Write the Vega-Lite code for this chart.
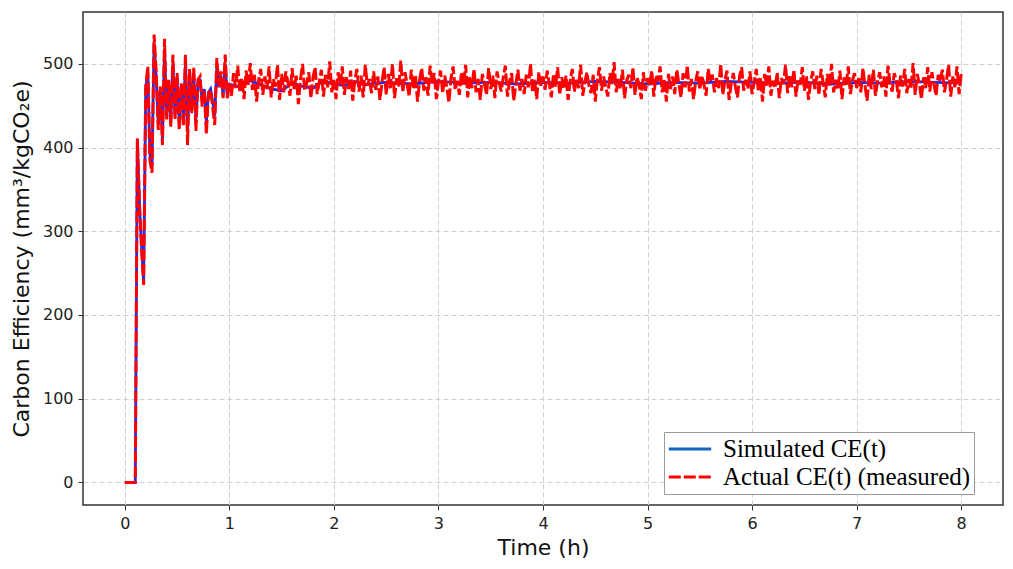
{
  "$schema": "https://vega.github.io/schema/vega-lite/v6.json",
  "width": 920,
  "height": 493,
  "autosize": {"type": "none"},
  "padding": {"left": 83, "top": 12, "right": 10, "bottom": 64},
  "background": "white",
  "datasets": {
    "simulated": [
      {"t":0,"v":0},{"t":0.02,"v":0},{"t":0.04,"v":0},{"t":0.06,"v":0},{"t":0.08,"v":0},{"t":0.1,"v":0},
      {"t":0.12,"v":409},{"t":0.14,"v":335},{"t":0.16,"v":282},{"t":0.18,"v":240},{"t":0.2,"v":470},
      {"t":0.22,"v":490},{"t":0.24,"v":392},{"t":0.26,"v":378},{"t":0.28,"v":525},{"t":0.3,"v":485},
      {"t":0.32,"v":428},{"t":0.34,"v":468},{"t":0.36,"v":410},{"t":0.38,"v":518},{"t":0.4,"v":440},
      {"t":0.42,"v":478},{"t":0.44,"v":432},{"t":0.46,"v":500},{"t":0.48,"v":440},{"t":0.5,"v":484},
      {"t":0.52,"v":430},{"t":0.54,"v":474},{"t":0.56,"v":436},{"t":0.58,"v":500},{"t":0.6,"v":418},
      {"t":0.62,"v":486},{"t":0.64,"v":448},{"t":0.66,"v":488},{"t":0.68,"v":432},{"t":0.7,"v":478},
      {"t":0.72,"v":480},{"t":0.74,"v":456},{"t":0.76,"v":470},{"t":0.78,"v":430},{"t":0.8,"v":466},
      {"t":0.82,"v":470},{"t":0.84,"v":455},{"t":0.86,"v":438},{"t":0.88,"v":496},{"t":0.9,"v":472},
      {"t":0.92,"v":486},{"t":0.94,"v":462},{"t":0.96,"v":500},{"t":0.98,"v":462},{"t":1,"v":476},
      {"t":1.1,"v":472},{"t":1.2,"v":480},{"t":1.3,"v":475},{"t":1.4,"v":470},{"t":1.5,"v":468},
      {"t":1.6,"v":477},{"t":1.7,"v":473},{"t":1.8,"v":471},{"t":1.9,"v":480},{"t":2,"v":476},
      {"t":2.1,"v":474},{"t":2.2,"v":479},{"t":2.3,"v":475},{"t":2.4,"v":477},{"t":2.5,"v":478},
      {"t":2.75,"v":476},{"t":3,"v":479},{"t":3.25,"v":477},{"t":3.5,"v":478},{"t":3.75,"v":476},
      {"t":4,"v":478},{"t":4.25,"v":477},{"t":4.5,"v":479},{"t":4.75,"v":478},{"t":5,"v":476},
      {"t":5.25,"v":478},{"t":5.5,"v":477},{"t":5.75,"v":479},{"t":6,"v":478},{"t":6.25,"v":477},
      {"t":6.5,"v":478},{"t":6.75,"v":476},{"t":7,"v":478},{"t":7.25,"v":477},{"t":7.5,"v":479},
      {"t":7.75,"v":478},{"t":8,"v":477}
    ],
    "measured": [
      {"t":0,"v":0},{"t":0.02,"v":0},{"t":0.04,"v":0},{"t":0.06,"v":0},{"t":0.08,"v":0},{"t":0.1,"v":0},
      {"t":0.12,"v":411},{"t":0.14,"v":330},{"t":0.16,"v":280},{"t":0.18,"v":236},{"t":0.2,"v":473},
      {"t":0.22,"v":497},{"t":0.24,"v":385},{"t":0.26,"v":370},{"t":0.28,"v":535},{"t":0.3,"v":491},
      {"t":0.32,"v":421},{"t":0.34,"v":473},{"t":0.36,"v":403},{"t":0.38,"v":530},{"t":0.4,"v":433},
      {"t":0.42,"v":481},{"t":0.44,"v":425},{"t":0.46,"v":511},{"t":0.48,"v":433},{"t":0.5,"v":489},
      {"t":0.52,"v":421},{"t":0.54,"v":477},{"t":0.56,"v":425},{"t":0.58,"v":511},{"t":0.6,"v":403},
      {"t":0.62,"v":494},{"t":0.64,"v":441},{"t":0.66,"v":496},{"t":0.68,"v":420},{"t":0.7,"v":481},
      {"t":0.72,"v":485},{"t":0.74,"v":449},{"t":0.76,"v":469},{"t":0.78,"v":416},{"t":0.8,"v":465},
      {"t":0.82,"v":469},{"t":0.84,"v":449},{"t":0.86,"v":427},{"t":0.88,"v":507},{"t":0.9,"v":473},
      {"t":0.92,"v":491},{"t":0.94,"v":459},{"t":0.96,"v":511},{"t":0.98,"v":459},{"t":1,"v":477},
      {"t":1.02,"v":462},{"t":1.04,"v":489},{"t":1.06,"v":471},{"t":1.08,"v":498},{"t":1.1,"v":466},{"t":1.12,"v":483},{"t":1.14,"v":458},{"t":1.16,"v":492},{"t":1.18,"v":475},{"t":1.2,"v":501},
      {"t":1.22,"v":469},{"t":1.24,"v":487},{"t":1.26,"v":455},{"t":1.28,"v":480},{"t":1.3,"v":494},{"t":1.32,"v":463},{"t":1.34,"v":485},{"t":1.36,"v":470},{"t":1.38,"v":497},{"t":1.4,"v":460},
      {"t":1.42,"v":482},{"t":1.44,"v":473},{"t":1.46,"v":499},{"t":1.48,"v":457},{"t":1.5,"v":488},{"t":1.52,"v":466},{"t":1.54,"v":491},{"t":1.56,"v":478},{"t":1.58,"v":462},{"t":1.6,"v":495},
      {"t":1.62,"v":470},{"t":1.64,"v":486},{"t":1.66,"v":452},{"t":1.68,"v":481},{"t":1.7,"v":500},{"t":1.72,"v":468},{"t":1.74,"v":477},{"t":1.76,"v":490},{"t":1.78,"v":459},{"t":1.8,"v":484},
      {"t":1.82,"v":496},{"t":1.84,"v":464},{"t":1.86,"v":479},{"t":1.88,"v":493},{"t":1.9,"v":461},{"t":1.92,"v":487},{"t":1.94,"v":472},{"t":1.96,"v":503},{"t":1.98,"v":466},{"t":2,"v":481},
      {"t":2.02,"v":458},{"t":2.04,"v":490},{"t":2.06,"v":475},{"t":2.08,"v":497},{"t":2.1,"v":463},{"t":2.12,"v":484},{"t":2.14,"v":470},{"t":2.16,"v":492},{"t":2.18,"v":456},{"t":2.2,"v":480},
      {"t":2.22,"v":494},{"t":2.24,"v":467},{"t":2.26,"v":486},{"t":2.28,"v":460},{"t":2.3,"v":499},{"t":2.32,"v":474},{"t":2.34,"v":482},{"t":2.36,"v":465},{"t":2.38,"v":491},{"t":2.4,"v":469},
      {"t":2.42,"v":485},{"t":2.44,"v":457},{"t":2.46,"v":478},{"t":2.48,"v":496},{"t":2.5,"v":463},{"t":2.52,"v":488},{"t":2.54,"v":471},{"t":2.56,"v":500},{"t":2.58,"v":459},{"t":2.6,"v":483},
      {"t":2.62,"v":473},{"t":2.64,"v":504},{"t":2.66,"v":466},{"t":2.68,"v":490},{"t":2.7,"v":476},{"t":2.72,"v":461},{"t":2.74,"v":493},{"t":2.76,"v":470},{"t":2.78,"v":487},{"t":2.8,"v":455},
      {"t":2.82,"v":481},{"t":2.84,"v":495},{"t":2.86,"v":468},{"t":2.88,"v":484},{"t":2.9,"v":462},{"t":2.92,"v":498},{"t":2.94,"v":475},{"t":2.96,"v":489},{"t":2.98,"v":458},{"t":3,"v":479},
      {"t":3.02,"v":492},{"t":3.04,"v":465},{"t":3.06,"v":486},{"t":3.08,"v":472},{"t":3.1,"v":454},{"t":3.12,"v":483},{"t":3.14,"v":497},{"t":3.16,"v":469},{"t":3.18,"v":480},{"t":3.2,"v":463},
      {"t":3.22,"v":490},{"t":3.24,"v":474},{"t":3.26,"v":499},{"t":3.28,"v":460},{"t":3.3,"v":485},{"t":3.32,"v":471},{"t":3.34,"v":494},{"t":3.36,"v":466},{"t":3.38,"v":482},{"t":3.4,"v":457},
      {"t":3.42,"v":488},{"t":3.44,"v":476},{"t":3.46,"v":463},{"t":3.48,"v":495},{"t":3.5,"v":470},{"t":3.52,"v":486},{"t":3.54,"v":459},{"t":3.56,"v":491},{"t":3.58,"v":478},{"t":3.6,"v":467},
      {"t":3.62,"v":484},{"t":3.64,"v":498},{"t":3.66,"v":461},{"t":3.68,"v":479},{"t":3.7,"v":489},{"t":3.72,"v":456},{"t":3.74,"v":475},{"t":3.76,"v":493},{"t":3.78,"v":468},{"t":3.8,"v":482},
      {"t":3.82,"v":464},{"t":3.84,"v":487},{"t":3.86,"v":472},{"t":3.88,"v":500},{"t":3.9,"v":466},{"t":3.92,"v":481},{"t":3.94,"v":458},{"t":3.96,"v":490},{"t":3.98,"v":474},{"t":4,"v":485},
      {"t":4.02,"v":469},{"t":4.04,"v":492},{"t":4.06,"v":477},{"t":4.08,"v":460},{"t":4.1,"v":488},{"t":4.12,"v":473},{"t":4.14,"v":496},{"t":4.16,"v":463},{"t":4.18,"v":484},{"t":4.2,"v":470},
      {"t":4.22,"v":486},{"t":4.24,"v":457},{"t":4.26,"v":480},{"t":4.28,"v":494},{"t":4.3,"v":467},{"t":4.32,"v":483},{"t":4.34,"v":471},{"t":4.36,"v":499},{"t":4.38,"v":462},{"t":4.4,"v":478},
      {"t":4.42,"v":490},{"t":4.44,"v":474},{"t":4.46,"v":465},{"t":4.48,"v":487},{"t":4.5,"v":455},{"t":4.52,"v":481},{"t":4.54,"v":496},{"t":4.56,"v":468},{"t":4.58,"v":485},{"t":4.6,"v":472},
      {"t":4.62,"v":461},{"t":4.64,"v":489},{"t":4.66,"v":476},{"t":4.68,"v":502},{"t":4.7,"v":466},{"t":4.72,"v":482},{"t":4.74,"v":470},{"t":4.76,"v":493},{"t":4.78,"v":459},{"t":4.8,"v":480},
      {"t":4.82,"v":487},{"t":4.84,"v":471},{"t":4.86,"v":496},{"t":4.88,"v":463},{"t":4.9,"v":484},{"t":4.92,"v":475},{"t":4.94,"v":458},{"t":4.96,"v":490},{"t":4.98,"v":468},{"t":5,"v":483},
      {"t":5.02,"v":474},{"t":5.04,"v":492},{"t":5.06,"v":461},{"t":5.08,"v":486},{"t":5.1,"v":479},{"t":5.12,"v":497},{"t":5.14,"v":466},{"t":5.16,"v":481},{"t":5.18,"v":455},{"t":5.2,"v":488},
      {"t":5.22,"v":470},{"t":5.24,"v":485},{"t":5.26,"v":464},{"t":5.28,"v":493},{"t":5.3,"v":476},{"t":5.32,"v":460},{"t":5.34,"v":489},{"t":5.36,"v":472},{"t":5.38,"v":498},{"t":5.4,"v":467},
      {"t":5.42,"v":482},{"t":5.44,"v":458},{"t":5.46,"v":479},{"t":5.48,"v":491},{"t":5.5,"v":469},{"t":5.52,"v":486},{"t":5.54,"v":475},{"t":5.56,"v":462},{"t":5.58,"v":494},{"t":5.6,"v":478},
      {"t":5.62,"v":487},{"t":5.64,"v":466},{"t":5.66,"v":483},{"t":5.68,"v":471},{"t":5.7,"v":500},{"t":5.72,"v":463},{"t":5.74,"v":480},{"t":5.76,"v":492},{"t":5.78,"v":457},{"t":5.8,"v":476},
      {"t":5.82,"v":489},{"t":5.84,"v":473},{"t":5.86,"v":460},{"t":5.88,"v":485},{"t":5.9,"v":496},{"t":5.92,"v":468},{"t":5.94,"v":481},{"t":5.96,"v":470},{"t":5.98,"v":491},{"t":6,"v":464},
      {"t":6.02,"v":478},{"t":6.04,"v":494},{"t":6.06,"v":467},{"t":6.08,"v":484},{"t":6.1,"v":455},{"t":6.12,"v":488},{"t":6.14,"v":474},{"t":6.16,"v":497},{"t":6.18,"v":462},{"t":6.2,"v":480},
      {"t":6.22,"v":471},{"t":6.24,"v":490},{"t":6.26,"v":459},{"t":6.28,"v":483},{"t":6.3,"v":476},{"t":6.32,"v":499},{"t":6.34,"v":465},{"t":6.36,"v":487},{"t":6.38,"v":472},{"t":6.4,"v":493},
      {"t":6.42,"v":461},{"t":6.44,"v":482},{"t":6.46,"v":475},{"t":6.48,"v":496},{"t":6.5,"v":468},{"t":6.52,"v":485},{"t":6.54,"v":457},{"t":6.56,"v":479},{"t":6.58,"v":491},{"t":6.6,"v":470},
      {"t":6.62,"v":486},{"t":6.64,"v":463},{"t":6.66,"v":494},{"t":6.68,"v":477},{"t":6.7,"v":460},{"t":6.72,"v":488},{"t":6.74,"v":473},{"t":6.76,"v":500},{"t":6.78,"v":466},{"t":6.8,"v":481},
      {"t":6.82,"v":469},{"t":6.84,"v":492},{"t":6.86,"v":458},{"t":6.88,"v":484},{"t":6.9,"v":475},{"t":6.92,"v":497},{"t":6.94,"v":464},{"t":6.96,"v":480},{"t":6.98,"v":489},{"t":7,"v":471},
      {"t":7.02,"v":483},{"t":7.04,"v":466},{"t":7.06,"v":495},{"t":7.08,"v":474},{"t":7.1,"v":456},{"t":7.12,"v":487},{"t":7.14,"v":470},{"t":7.16,"v":493},{"t":7.18,"v":462},{"t":7.2,"v":479},
      {"t":7.22,"v":490},{"t":7.24,"v":472},{"t":7.26,"v":485},{"t":7.28,"v":461},{"t":7.3,"v":498},{"t":7.32,"v":476},{"t":7.34,"v":467},{"t":7.36,"v":489},{"t":7.38,"v":480},{"t":7.4,"v":459},
      {"t":7.42,"v":486},{"t":7.44,"v":473},{"t":7.46,"v":494},{"t":7.48,"v":465},{"t":7.5,"v":482},{"t":7.52,"v":470},{"t":7.54,"v":501},{"t":7.56,"v":463},{"t":7.58,"v":488},{"t":7.6,"v":476},
      {"t":7.62,"v":458},{"t":7.64,"v":484},{"t":7.66,"v":471},{"t":7.68,"v":496},{"t":7.7,"v":467},{"t":7.72,"v":490},{"t":7.74,"v":475},{"t":7.76,"v":462},{"t":7.78,"v":487},{"t":7.8,"v":479},
      {"t":7.82,"v":493},{"t":7.84,"v":466},{"t":7.86,"v":481},{"t":7.88,"v":499},{"t":7.9,"v":461},{"t":7.92,"v":485},{"t":7.94,"v":472},{"t":7.96,"v":497},{"t":7.98,"v":464},{"t":8,"v":488}
    ]
  },
  "encoding": {
    "x": {
      "field": "t",
      "type": "quantitative",
      "scale": {"domain": [-0.4, 8.4], "nice": false, "zero": false},
      "axis": {"values": [0, 1, 2, 3, 4, 5, 6, 7, 8], "title": "Time (h)", "labelPadding": 5, "titlePadding": 6}
    },
    "y": {
      "field": "v",
      "type": "quantitative",
      "scale": {"domain": [-27, 562], "nice": false, "zero": false},
      "axis": {"values": [0, 100, 200, 300, 400, 500], "title": "Carbon Efficiency (mm³/kgCO₂e)", "labelPadding": 5, "titlePadding": 9}
    }
  },
  "layer": [
    {
      "data": {"name": "simulated"},
      "mark": {"type": "line", "strokeWidth": 2.8, "color": "#1030ff"},
      "encoding": {}
    },
    {
      "data": {"name": "measured"},
      "mark": {"type": "line", "strokeWidth": 3},
      "encoding": {
        "color": {
          "datum": "Actual CE(t) (measured)",
          "type": "nominal",
          "scale": {"domain": ["Simulated CE(t)", "Actual CE(t) (measured)"], "range": ["#1565c0", "#ff0000"]},
          "legend": {
            "title": null,
            "orient": "none",
            "legendX": 581,
            "legendY": 420,
            "symbolType": "stroke",
            "symbolSize": 1800,
            "symbolStrokeWidth": 3,
            "labelFont": "Liberation Serif",
            "labelFontSize": 25,
            "labelColor": "black",
            "labelOffset": 10,
            "labelLimit": 500,
            "clipHeight": 28,
            "fillColor": "white",
            "strokeColor": "#9a9a9a",
            "padding": 3,
            "rowPadding": 0
          }
        },
        "strokeDash": {
          "datum": "Actual CE(t) (measured)",
          "type": "nominal",
          "scale": {"domain": ["Simulated CE(t)", "Actual CE(t) (measured)"], "range": [[1, 0], [12, 3]]},
          "legend": {
            "title": null,
            "orient": "none",
            "legendX": 581,
            "legendY": 420,
            "symbolType": "stroke",
            "symbolSize": 1800,
            "symbolStrokeWidth": 3,
            "labelFont": "Liberation Serif",
            "labelFontSize": 25,
            "labelColor": "black",
            "labelOffset": 10,
            "labelLimit": 500,
            "clipHeight": 28,
            "fillColor": "white",
            "strokeColor": "#9a9a9a",
            "padding": 3,
            "rowPadding": 0
          }
        }
      }
    }
  ],
  "config": {
    "view": {"stroke": "#333333", "strokeWidth": 1.5},
    "font": "DejaVu Sans",
    "axis": {
      "domain": false,
      "grid": true,
      "gridColor": "#cfcfcf",
      "gridDash": [5, 3],
      "gridWidth": 1,
      "tickColor": "#333333",
      "tickSize": 5,
      "tickWidth": 1,
      "labelFont": "DejaVu Sans",
      "labelFontSize": 16,
      "labelColor": "#222222",
      "titleFont": "DejaVu Sans",
      "titleFontSize": 22,
      "titleFontWeight": "normal",
      "titleColor": "#111111"
    }
  }
}
